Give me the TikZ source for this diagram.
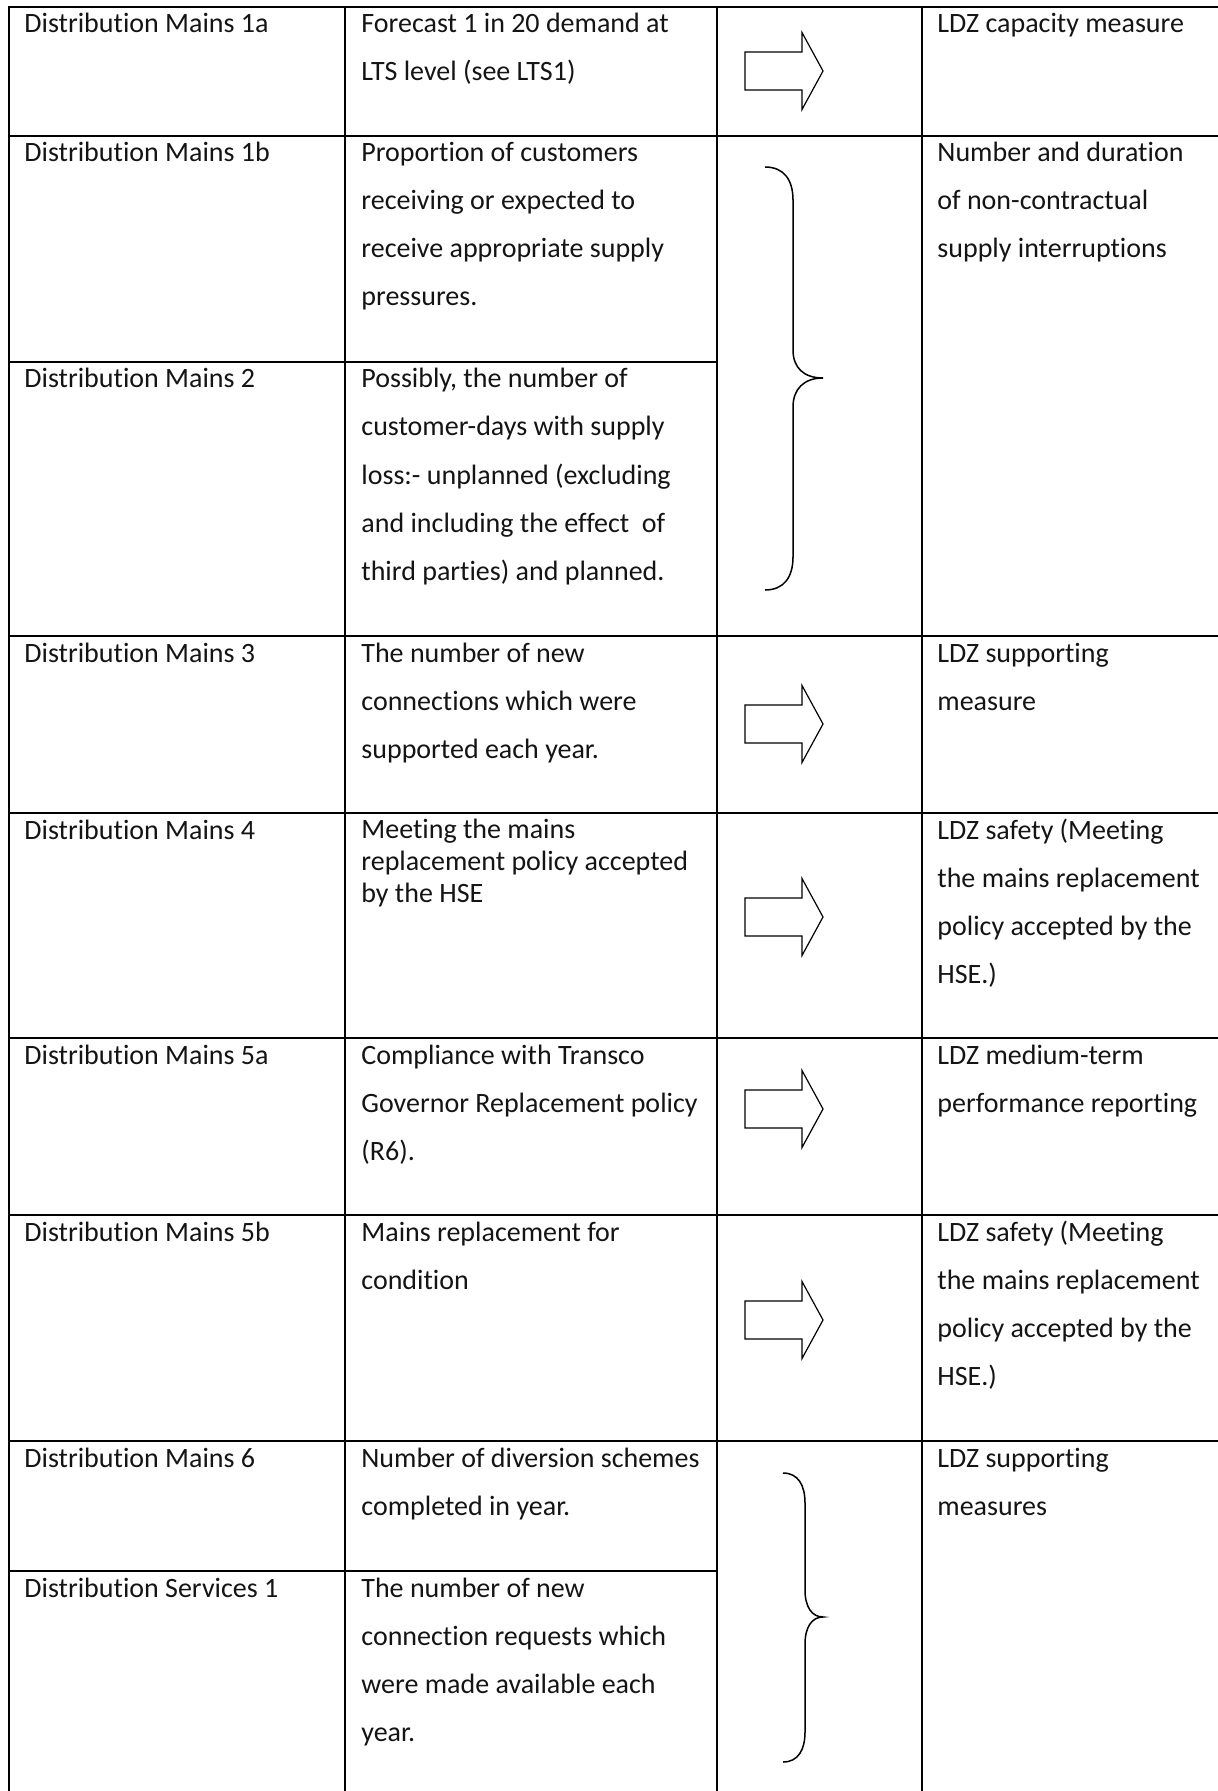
\documentclass[tikz,border=0pt]{standalone}
\usepackage{fontspec}
\setmainfont{Carlito}[Ligatures={NoCommon,NoContextual}]
\tikzset{
  txt/.style={anchor=base west, inner sep=0pt, font=\fontsize{14}{16}\selectfont, text=black!92},
  grid/.style={line width=1pt, line cap=rect},
  blockarrow/.style={line width=0.6pt, line join=miter},
  bracepath/.style={line width=0.75pt},
}
\newcommand\celllines[5]{%
  \foreach \lineText [count=\ii] in {#5} {%
    \node[txt] (#1-\ii) at (#2,{#3+(\ii-1)*#4}) {\lineText};
  }%
}
\newcommand\blockarr[2]{% name, centre y
  \draw[blockarrow] (745,{#2-19}) -- (802,{#2-19}) -- (802,{#2-38.5}) -- (823,#2)
     -- (802,{#2+38.5}) -- (802,{#2+19}) -- (745,{#2+19}) -- cycle;
  \coordinate (#1) at (784,#2);
}
\begin{document}
\begin{tikzpicture}[x=0.5pt,y=-0.5pt]
\useasboundingbox (0,0) rectangle (1217,1791);
% table rules
\foreach \yy in {7,136,636,813,1038,1215,1441} \draw[grid] (9,\yy) -- (1217,\yy);
\foreach \yy in {362,1571} \draw[grid] (9,\yy) -- (717,\yy);
\foreach \xx in {9,345,717,922} \draw[grid] (\xx,7) -- (\xx,1791);
% column 1
\celllines{a1}{24}{33}{48}{{Distribution Mains 1a}}
\celllines{a2}{24}{162}{48}{{Distribution Mains 1b}}
\celllines{a3}{24}{388}{48}{{Distribution Mains 2}}
\celllines{a4}{24}{662}{48}{{Distribution Mains 3}}
\celllines{a5}{24}{839}{48}{{Distribution Mains 4}}
\celllines{a6}{24}{1064}{48}{{Distribution Mains 5a}}
\celllines{a7}{24}{1241}{48}{{Distribution Mains 5b}}
\celllines{a8}{24}{1467}{48}{{Distribution Mains 6}}
\celllines{a9}{24}{1597}{48}{{Distribution Services 1}}
% column 2
\celllines{b1}{361}{33}{48}{{Forecast 1 in 20 demand at},{LTS level (see LTS1)}}
\celllines{b2}{361}{162}{48}{{Proportion of customers},{receiving or expected to},{receive appropriate supply},{pressures.}}
\celllines{b3}{361}{388}{48}{{Possibly, the number of},{customer-days with supply},{loss:- unplanned (excluding},{and including the effect\ \ of},{third parties) and planned.}}
\celllines{b4}{361}{662}{48}{{The number of new},{connections which were},{supported each year.}}
\celllines{b5}{361}{838}{32}{{Meeting the mains},{replacement policy accepted},{by the HSE}}
\celllines{b6}{361}{1064}{48}{{Compliance with Transco},{Governor Replacement policy},{(R6).}}
\celllines{b7}{361}{1241}{48}{{Mains replacement for},{condition}}
\celllines{b8}{361}{1467}{48}{{Number of diversion schemes},{completed in year.}}
\celllines{b9}{361}{1597}{48}{{The number of new},{connection requests which},{were made available each},{year.}}
% column 4
\celllines{d1}{937}{33}{48}{{LDZ capacity measure}}
\celllines{d2}{937}{162}{48}{{Number and duration},{of non-contractual},{supply interruptions}}
\celllines{d4}{937}{662}{48}{{LDZ supporting},{measure}}
\celllines{d5}{937}{839}{48}{{LDZ safety (Meeting},{the mains replacement},{policy accepted by the},{HSE.)}}
\celllines{d6}{937}{1064}{48}{{LDZ medium-term},{performance reporting}}
\celllines{d7}{937}{1241}{48}{{LDZ safety (Meeting},{the mains replacement},{policy accepted by the},{HSE.)}}
\celllines{d8}{937}{1467}{48}{{LDZ supporting},{measures}}
% block arrows
\blockarr{arr1}{71}
\blockarr{arr4}{724}
\blockarr{arr5}{917}
\blockarr{arr6}{1109}
\blockarr{arr7}{1320}
% braces
\draw[bracepath] (765,167) .. controls (784,167) and (793,180) .. (793,200) -- (793,350)
  .. controls (793,368) and (804,378) .. (823,378)
  .. controls (804,378) and (793,389) .. (793,407) -- (793,557)
  .. controls (793,577) and (784,590) .. (765,590);
\draw[bracepath] (783,1473) .. controls (798,1473) and (805,1485) .. (805,1503) -- (805,1590)
  .. controls (805,1607) and (812,1617) .. (823,1617)
  .. controls (812,1617) and (805,1627) .. (805,1644) -- (805,1732)
  .. controls (805,1750) and (798,1762) .. (783,1762);
\end{tikzpicture}
\end{document}
